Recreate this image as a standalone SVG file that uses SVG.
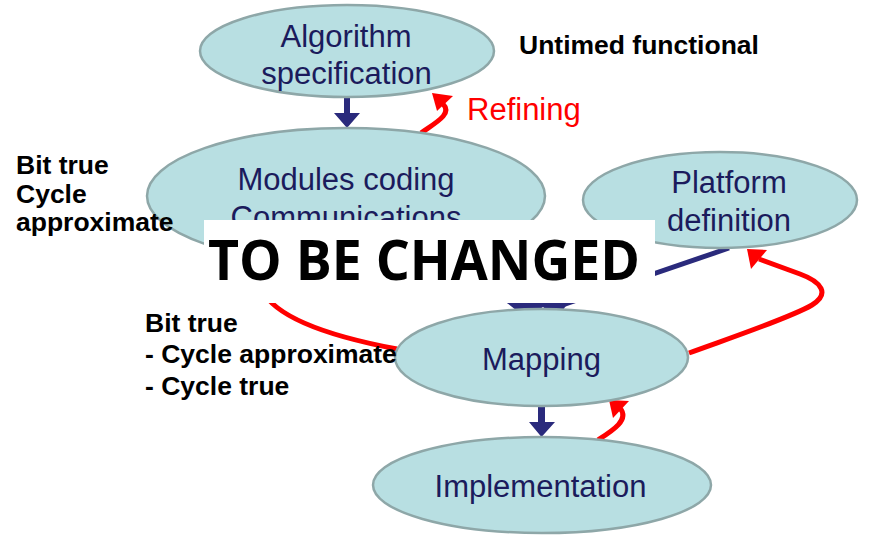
<svg xmlns="http://www.w3.org/2000/svg" width="888" height="548" viewBox="0 0 888 548">
<style>
.node ellipse{fill:#b8dfe2;stroke:#8ea7a8;stroke-width:2.5}
.nt{font-family:"Liberation Sans",Arial,sans-serif;font-size:31px;fill:#1b1b5c;text-anchor:middle}
.lbl{font-family:"Liberation Sans",Arial,sans-serif;font-size:26.5px;font-weight:bold;fill:#000}
.red{fill:none;stroke:#ff0000;stroke-width:5;stroke-linecap:butt}
.redh{fill:#ff0000}
.blue{fill:#2a2a7c}
.bl{stroke:#2a2a7c;stroke-width:5;fill:none}
</style>
<rect width="888" height="548" fill="#ffffff"/>
<g id="connectors">
<polygon class="blue" points="344,97 350,97 350,113 360,113 347,128 334,113 344,113"/>
<polygon class="blue" points="538,406 545,406 545,422 555,422 541.5,437 529,422 538,422"/>
<path class="red" d="M421,133 C435,123 453,114 443,104"/>
<polygon class="redh" points="432,93 453,96 437,111"/>
<path class="red" d="M598,440 C612,431 630,420 620,408"/>
<polygon class="redh" points="609,400 629,401 613,418"/>
<path class="red" d="M689,353 C730,338 790,318 812,305 C830,294 822,282 800,274 L759,259"/>
<polygon class="redh" points="747,249 767,250 751,269"/>
<path class="red" d="M262,290 Q280,327 397,349"/>
<line class="bl" x1="729" y1="248" x2="548" y2="310"/>
<line class="bl" x1="346" y1="262" x2="530" y2="306"/>
<polygon class="blue" points="507,303 568,303 557,318 543,307 526,318"/>
</g>
<g id="algorithm" class="node">
<ellipse cx="347" cy="51" rx="147" ry="46"/>
<text class="nt" x="346" y="47">Algorithm</text>
<text class="nt" x="346.5" y="84">specification</text>
</g>
<g id="modules" class="node">
<ellipse cx="346" cy="196" rx="199" ry="68"/>
<text class="nt" x="346" y="190">Modules coding</text>
<text class="nt" x="346" y="228">Communications</text>
</g>
<g id="platform" class="node">
<ellipse cx="720" cy="200" rx="137" ry="48"/>
<text class="nt" x="729" y="193">Platform</text>
<text class="nt" x="729" y="231">definition</text>
</g>
<g id="mapping" class="node">
<ellipse cx="541.5" cy="357.5" rx="146.5" ry="48.5"/>
<text class="nt" x="541.5" y="370">Mapping</text>
</g>
<g id="implementation" class="node">
<ellipse cx="542" cy="485" rx="169" ry="48"/>
<text class="nt" x="540.5" y="497">Implementation</text>
</g>
<g id="labels">
<text class="lbl" x="519" y="54">Untimed functional</text>
<text x="467" y="120" style="font-family:'Liberation Sans',Arial,sans-serif;font-size:31px;fill:#ff0000">Refining</text>
<text class="lbl" x="16" y="174">Bit true</text>
<text class="lbl" x="16" y="203">Cycle</text>
<text class="lbl" x="16" y="231">approximate</text>
<text class="lbl" x="145" y="332">Bit true</text>
<text class="lbl" x="145" y="363">- Cycle approximate</text>
<text class="lbl" x="145" y="395">- Cycle true</text>
</g>
<g id="overlay">
<rect x="204" y="220" width="451" height="83" fill="#ffffff"/>
<text x="208" y="280" textLength="432" lengthAdjust="spacingAndGlyphs" style="font-family:'Open Sans','DejaVu Sans',sans-serif;font-weight:bold;font-size:56px;fill:#000">TO BE CHANGED</text>
</g>
</svg>
